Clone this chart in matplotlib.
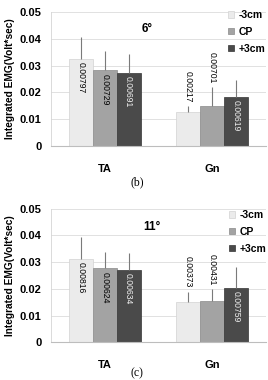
import matplotlib
matplotlib.use('Agg')
import matplotlib.pyplot as plt
from matplotlib.patches import Patch
import numpy as np

# ---------------- data ----------------
categories = ['TA', 'Gn']
series = ['-3cm', 'CP', '+3cm']

mean_6deg_minus3 = [0.0326, 0.0127]
mean_6deg_cp = [0.0282, 0.0150]
mean_6deg_plus3 = [0.0274, 0.0184]
sd_6deg_minus3 = [0.00797, 0.00217]
sd_6deg_cp = [0.00729, 0.00701]
sd_6deg_plus3 = [0.00691, 0.00619]

mean_11deg_minus3 = [0.0312, 0.0152]
mean_11deg_cp = [0.0277, 0.0155]
mean_11deg_plus3 = [0.0271, 0.0205]
sd_11deg_minus3 = [0.00816, 0.00373]
sd_11deg_cp = [0.00624, 0.00431]
sd_11deg_plus3 = [0.00634, 0.00759]

yticks = [0, 0.01, 0.02, 0.03, 0.04, 0.05]
ytick_labels = ['0', '0.01', '0.02', '0.03', '0.04', '0.05']
panel_titles = ['6°', '11°']
panel_captions = ['(b)', '(c)']
ylabel = 'Integrated EMG(Volt*sec)'

# ---------------- style ----------------
W, H = 268, 380
DPI = 100
SANS = 'Liberation Sans'
bar_colors = ['#ebebeb', '#a3a3a3', '#4a4a4a']
edge_colors = ['#d2d2d2', '#8a8a8a', '#353535']
label_colors = ['#000000', '#000000', '#f2f2f2']

fig = plt.figure(figsize=(W / DPI, H / DPI), dpi=DPI)


def px_axes(left, top, right, bottom):
    return fig.add_axes([left / W, 1 - bottom / H, (right - left) / W, (bottom - top) / H])


panels = [
    dict(rect=(51, 12, 266, 146),
         means=[mean_6deg_minus3, mean_6deg_cp, mean_6deg_plus3],
         sds=[sd_6deg_minus3, sd_6deg_cp, sd_6deg_plus3],
         title=panel_titles[0], title_pos=(147, 29),
         legend_anchor=(228, 10), caption=panel_captions[0], caption_y=182),
    dict(rect=(51, 208.7, 266, 342.3),
         means=[mean_11deg_minus3, mean_11deg_cp, mean_11deg_plus3],
         sds=[sd_11deg_minus3, sd_11deg_cp, sd_11deg_plus3],
         title=panel_titles[1], title_pos=(152, 227),
         legend_anchor=(229, 210), caption=panel_captions[1], caption_y=373),
]

x = np.arange(len(categories))
bw = 0.222

for p in panels:
    l, t, r, b = p['rect']
    ax = px_axes(l, t, r, b)
    ax.set_xlim(-0.5, len(categories) - 0.5)
    ax.set_ylim(0, 0.05)
    px = 0.05 / (b - t)  # data units per pixel

    for i in range(len(series)):
        m = np.array(p['means'][i])
        s = np.array(p['sds'][i])
        xs = x + (i - 1) * bw
        ax.bar(xs, m, width=bw, color=bar_colors[i], edgecolor=edge_colors[i],
               linewidth=0.5, zorder=2)
        ax.errorbar(xs, m, yerr=[np.zeros_like(s), s], fmt='none',
                    ecolor='#7a7a7a', elinewidth=0.8, capsize=0, zorder=3)
        for xi, mi, si in zip(xs, m, s):
            if mi > 0.017:
                ax.text(xi, mi - 3.5 * px, f'{si:.5f}', rotation=-90, ha='center',
                        va='top', fontsize=6.2, family=SANS, color=label_colors[i], zorder=4)
            else:
                ax.text(xi, mi + si + 4 * px, f'{si:.5f}', rotation=-90, ha='center',
                        va='bottom', fontsize=6.2, family=SANS, color='#000000', zorder=4)

    ax.set_yticks(yticks)
    ax.set_yticklabels(ytick_labels, fontsize=8, fontweight='bold', family=SANS)
    ax.set_xticks(x)
    ax.set_xticklabels(categories, fontsize=8, fontweight='bold', family=SANS)
    ax.tick_params(axis='y', length=0, pad=7)
    ax.tick_params(axis='x', length=0, pad=13)
    ax.grid(axis='y', color='#dcdcdc', linewidth=0.6, zorder=0)
    ax.set_axisbelow(True)
    for sp in ['top', 'right']:
        ax.spines[sp].set_visible(False)
    ax.spines['left'].set_color('#d5d5d5')
    ax.spines['left'].set_linewidth(0.6)
    ax.spines['bottom'].set_color('#bdbdbd')
    ax.spines['bottom'].set_linewidth(0.8)

    ax.set_ylabel(ylabel, fontsize=7.3, family=SANS, fontweight='bold')
    ax.yaxis.set_label_coords((15 - l) / (r - l), 0.5)

    tx, ty = p['title_pos']
    ax.text((tx - l) / (r - l), (b - ty) / (b - t), p['title'], transform=ax.transAxes,
            ha='center', va='center', fontsize=8.5, fontweight='bold', family=SANS)

    handles = [Patch(facecolor=bar_colors[i], edgecolor=edge_colors[i], linewidth=0.5,
                     label=series[i]) for i in range(len(series))]
    la, lt = p['legend_anchor']
    ax.legend(handles=handles, loc='upper left',
              bbox_to_anchor=((la - l) / (r - l), (b - lt) / (b - t)),
              frameon=False, prop={'family': SANS, 'weight': 'bold', 'size': 7.5},
              handlelength=0.6, handleheight=0.6, handletextpad=0.4,
              labelspacing=0.65, borderpad=0, borderaxespad=0)

    fig.text(137 / W, 1 - p['caption_y'] / H, p['caption'], ha='center', va='center',
             fontsize=8.5, family='Liberation Serif')

fig.savefig('out.png', dpi=DPI)
